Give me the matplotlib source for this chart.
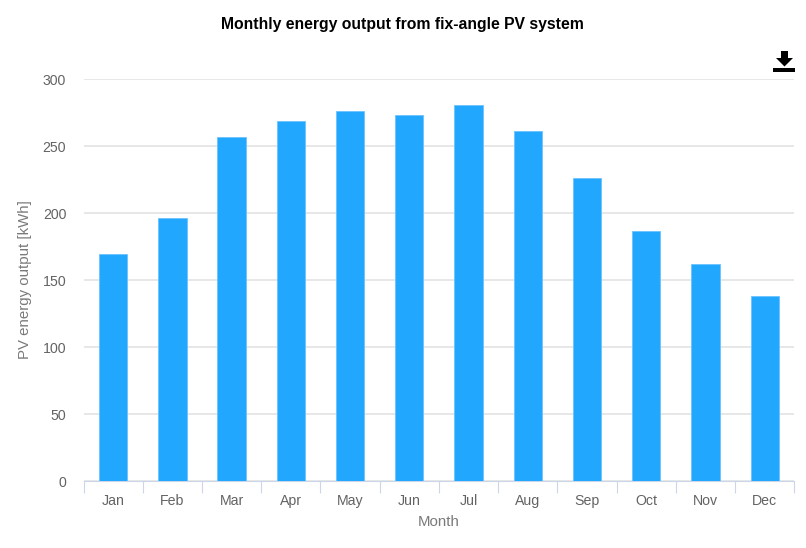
import matplotlib
matplotlib.use('Agg')
import matplotlib.pyplot as plt
from matplotlib.patches import Polygon, Rectangle

months = ['Jan', 'Feb', 'Mar', 'Apr', 'May', 'Jun', 'Jul', 'Aug', 'Sep', 'Oct', 'Nov', 'Dec']
output = [169.5, 196.5, 256.5, 268.5, 276.5, 273, 281, 261.5, 226.5, 187, 162, 138]
yticks = [0, 50, 100, 150, 200, 250, 300]

W, H = 806, 548
plt.rcParams['font.family'] = ['Liberation Sans', 'DejaVu Sans']

fig = plt.figure(figsize=(W / 100, H / 100), dpi=100)
# axes box in pixels of the reference
left, right, top, bottom = 83.5, 794.3, 79.2, 481.2
ax = fig.add_axes([left / W, 1 - bottom / H, (right - left) / W, (bottom - top) / H])

ax.bar(range(12), output, width=0.478, color='#22a7ff', edgecolor='#6cc3ff', linewidth=0.6, zorder=3)
ax.set_xlim(-0.5, 11.5)
ax.set_ylim(0, 300)

ax.set_yticks(yticks)
ax.yaxis.grid(True, color='#e2e2e2', linewidth=1.15, zorder=0)
ax.set_axisbelow(True)
ax.tick_params(axis='y', length=0, pad=12.5, labelsize=10.2, labelcolor='#636363')

# category labels sit mid slot, ticks sit on slot edges
ax.set_xticks([i - 0.5 for i in range(13)])
ax.set_xticklabels([])
ax.set_xticks(range(12), minor=True)
ax.set_xticklabels(months, minor=True)
ax.tick_params(axis='x', which='major', length=8.5, width=0.8, color='#ccd6eb')
ax.tick_params(axis='x', which='minor', length=0, pad=9.5, labelsize=10.2, labelcolor='#636363')

for s in ['top', 'left', 'right']:
    ax.spines[s].set_visible(False)
ax.spines['bottom'].set_color('#ccd6eb')
ax.spines['bottom'].set_linewidth(0.8)

fig.text(402.5 / W, 1 - 24.5 / H, 'Monthly energy output from fix-angle PV system',
         fontsize=11.3, fontweight='bold', color='black', ha='center', va='center')
fig.text(439 / W, 1 - 522 / H, 'Month', fontsize=10.8, color='#7a7a7a', ha='center', va='center')
fig.text(25.5 / W, 1 - 280 / H, 'PV energy output [kWh]', fontsize=10.8, color='#7a7a7a',
         ha='center', va='center', rotation=90)

# download icon
def px(x, y):
    return (x / W, 1 - y / H)

arrow = [(781, 51), (788, 51), (788, 58), (793, 58), (784.5, 66.5), (776, 58), (781, 58)]
fig.add_artist(Polygon([px(*p) for p in arrow], closed=True, color='black', lw=0,
                       transform=fig.transFigure))
fig.add_artist(Rectangle(px(773, 72), 22 / W, 4.5 / H, color='black', lw=0,
                         transform=fig.transFigure))

fig.savefig('out.png', dpi=100, facecolor='white')
